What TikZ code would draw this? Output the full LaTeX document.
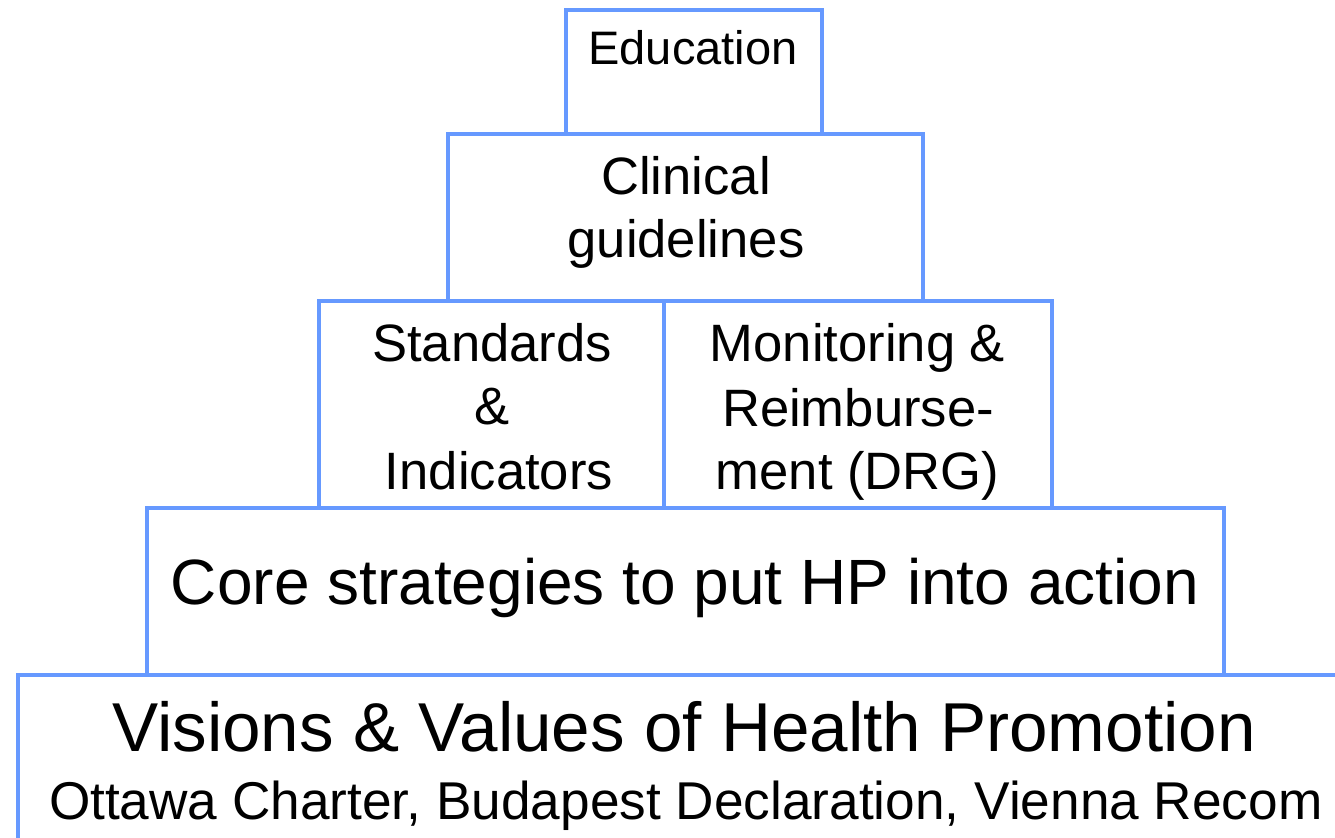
\documentclass[tikz,border=0pt]{standalone}
\usepackage{fontspec}
\setmainfont{Liberation Sans}
\definecolor{boxblue}{RGB}{102,153,255}
\newcommand{\fsz}[1]{\fontsize{#1}{1.15\dimexpr#1pt\relax}\selectfont}
\tikzset{
  box/.style={draw=boxblue, line width=1.7pt, inner sep=0pt, outer sep=0pt},
  lbl/.style={anchor=base, inner sep=0pt, outer sep=0pt, text=black},
  lblw/.style={anchor=base west, inner sep=0pt, outer sep=0pt, text=black}
}
\begin{document}
\begin{tikzpicture}[x=0.5pt, y=-0.5pt]
\useasboundingbox (0,0) rectangle (1335,838);
\clip (0,0) rectangle (1335,838);
\fill[white] (0,0) rectangle (1335,838);
% boxes
\node[box, minimum width=128pt, minimum height=62pt] (edu) at (694,72) {};
\node[box, minimum width=237.5pt, minimum height=83.5pt] (clin) at (685.5,217.5) {};
\node[box, minimum width=172.5pt, minimum height=103.5pt] (std) at (491.5,404.5) {};
\node[box, minimum width=194pt, minimum height=103.5pt] (mon) at (858,404.5) {};
\node[box, minimum width=538.5pt, minimum height=83.5pt] (core) at (685.5,591.5) {};
\node[box, minimum width=671pt, minimum height=92.5pt] (vis) at (689,767.5) {};
% texts
\node[lbl, font=\fsz{23.5}] (tedu) at (693,65) {Education};
\node[lbl, font=\fsz{26.3}] (tclin1) at (686,195) {Clinical};
\node[lbl, font=\fsz{26.3}] (tclin2) at (686,258) {guidelines};
\node[lbl, font=\fsz{26.3}] (tstd1) at (492,362) {Standards};
\node[lbl, font=\fsz{26.3}] (tstd2) at (492,425) {\&};
\node[lbl, font=\fsz{26.3}] (tstd3) at (499,490) {Indicators};
\node[lbl, font=\fsz{26.3}] (tmon1) at (857.5,362) {Monitoring \&};
\node[lbl, font=\fsz{26.3}] (tmon2) at (858,427) {Reimburse-};
\node[lbl, font=\fsz{26.3}] (tmon3) at (857.5,490) {ment (DRG)};
\node[lbl, font=\fsz{32}] (tcore) at (685,605) {Core strategies to put HP into action};
\node[lbl, font=\fsz{34.6}] (tvis1) at (684,752) {Visions \& Values of Health Promotion};
\node[lblw, font=\fsz{26.6}] (tvis2) at (49,820) {Ottawa Charter, Budapest Declaration, Vienna Recom};
\end{tikzpicture}
\end{document}
